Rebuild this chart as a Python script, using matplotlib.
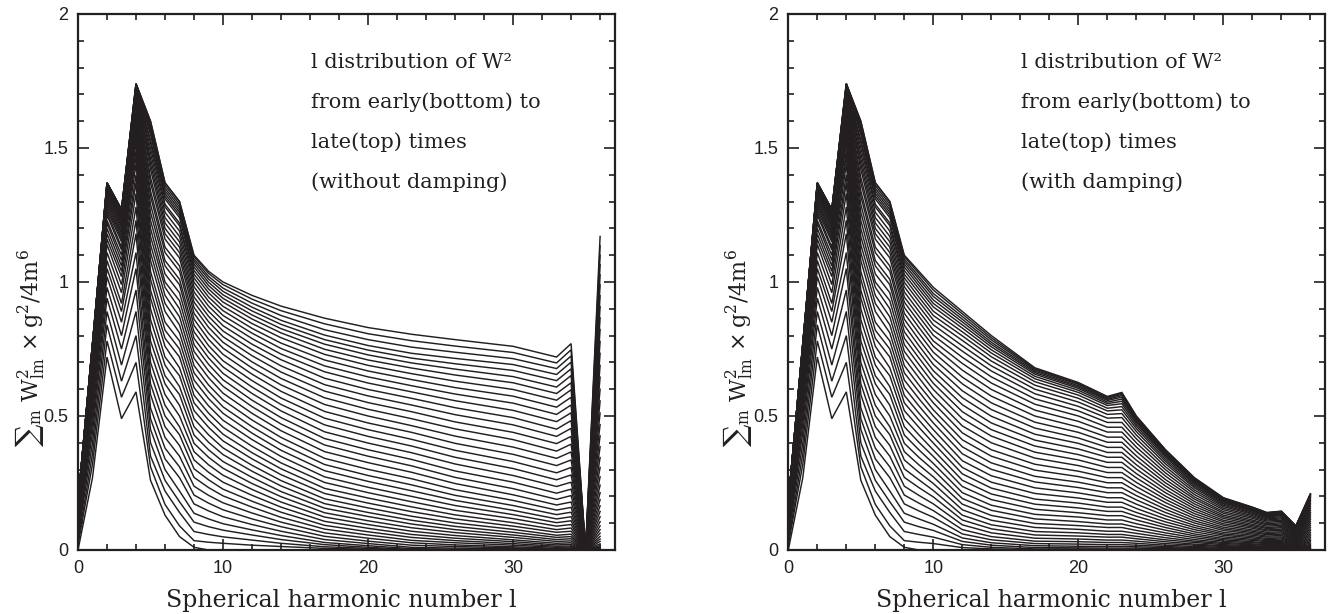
import numpy as np
import matplotlib
matplotlib.use("Agg")
import matplotlib.pyplot as plt
from matplotlib.ticker import MultipleLocator

plt.rcParams['mathtext.fontset'] = 'dejavuserif'

l_low = [0, 1, 2, 3, 4, 5, 6, 7, 8, 9]
l_nodamp = [10, 12, 14, 17, 20, 23, 26, 30, 33, 34, 35, 36]
l_damp = [10, 12, 14, 17, 20, 22, 23, 24, 26, 28, 30, 32, 33, 34, 35, 36]

# one row per l, 46 snapshots in each row from early (first) to late (last)
# low l: both runs look the same
low_rows = [
    [0, .02, .03, .05, .06, .07, .08, .09, .10, .11, .12, .12, .13, .13, .14, .14, .15, .15, .15, .16,
     .16, .16, .16, .16, .17, .17, .17, .17, .17, .17, .17, .17, .18, .18, .18, .18, .18, .18, .18, .18,
     .18, .18, .18, .18, .18, .18],
    [.27, .32, .36, .40, .44, .47, .50, .53, .55, .57, .59, .61, .62, .64, .65, .66, .67, .68, .69, .70,
     .71, .71, .72, .73, .73, .73, .74, .74, .75, .75, .75, .75, .76, .76, .76, .76, .76, .76, .77, .77,
     .77, .77, .77, .77, .77, .77],
    [.72, .78, .84, .89, .94, .98, 1.02, 1.05, 1.08, 1.11, 1.14, 1.16, 1.18, 1.20, 1.22, 1.23, 1.25, 1.26, 1.27, 1.28,
     1.29, 1.30, 1.30, 1.31, 1.32, 1.32, 1.33, 1.33, 1.34, 1.34, 1.35, 1.35, 1.35, 1.35, 1.36, 1.36, 1.36, 1.36, 1.36, 1.36,
     1.37, 1.37, 1.37, 1.37, 1.37, 1.37],
    [.49, .57, .63, .69, .75, .80, .85, .89, .92, .96, .99, 1.02, 1.04, 1.06, 1.08, 1.10, 1.12, 1.13, 1.15, 1.16,
     1.17, 1.18, 1.19, 1.20, 1.21, 1.21, 1.22, 1.23, 1.23, 1.24, 1.24, 1.24, 1.25, 1.25, 1.25, 1.26, 1.26, 1.26, 1.26, 1.26,
     1.27, 1.27, 1.27, 1.27, 1.27, 1.27],
    [.59, .70, .80, .89, .97, 1.05, 1.11, 1.18, 1.23, 1.28, 1.33, 1.37, 1.40, 1.44, 1.47, 1.49, 1.52, 1.54, 1.56, 1.58,
     1.60, 1.61, 1.62, 1.64, 1.65, 1.66, 1.67, 1.67, 1.68, 1.69, 1.70, 1.70, 1.71, 1.71, 1.71, 1.72, 1.72, 1.72, 1.73, 1.73,
     1.73, 1.73, 1.74, 1.74, 1.74, 1.74],
    [.26, .31, .35, .40, .45, .49, .53, .58, .62, .66, .70, .74, .78, .82, .86, .90, .94, .97, 1.01, 1.04,
     1.08, 1.11, 1.14, 1.17, 1.20, 1.23, 1.26, 1.29, 1.32, 1.34, 1.37, 1.39, 1.42, 1.44, 1.46, 1.48, 1.50, 1.52, 1.53, 1.55,
     1.56, 1.57, 1.58, 1.59, 1.60, 1.60],
    [.13, .17, .22, .26, .30, .34, .38, .42, .46, .50, .54, .58, .62, .65, .69, .72, .76, .79, .82, .85,
     .89, .92, .95, .98, 1.00, 1.03, 1.06, 1.08, 1.11, 1.13, 1.16, 1.18, 1.20, 1.22, 1.24, 1.26, 1.28, 1.29, 1.31, 1.32,
     1.33, 1.34, 1.35, 1.36, 1.37, 1.37],
    [.05, .09, .14, .18, .22, .27, .31, .35, .39, .43, .46, .50, .54, .58, .61, .65, .68, .72, .75, .78,
     .81, .84, .87, .90, .93, .96, .99, 1.01, 1.04, 1.06, 1.09, 1.11, 1.13, 1.15, 1.17, 1.19, 1.21, 1.22, 1.24, 1.25,
     1.26, 1.27, 1.28, 1.29, 1.30, 1.30],
    [.01, .035, .069, .104, .137, .172, .205, .238, .271, .303, .336, .367, .398, .429, .460, .490, .520, .549, .577, .606,
     .634, .661, .688, .715, .741, .766, .790, .814, .838, .861, .883, .905, .925, .944, .963, .982, .999, 1.015, 1.029, 1.043,
     1.056, 1.067, 1.077, 1.086, 1.095, 1.10],
    [0, .029, .058, .087, .116, .146, .175, .204, .233, .262, .290, .318, .346, .374, .402, .430, .458, .485, .511, .538,
     .565, .591, .616, .643, .668, .693, .717, .740, .763, .786, .809, .831, .852, .872, .891, .910, .928, .944, .960, .974,
     .987, .999, 1.011, 1.021, 1.032, 1.04],
]

# higher l, without damping
nodamp_rows = [
    [0, .025, .049, .074, .098, .124, .150, .176, .202, .227, .253, .279, .305, .330, .356, .381, .407, .432, .458, .484,
     .510, .534, .560, .585, .611, .635, .659, .683, .706, .730, .753, .775, .796, .817, .837, .857, .875, .893, .909, .925,
     .939, .952, .965, .977, .990, 1.0],
    [0, .018, .037, .056, .075, .095, .116, .138, .160, .182, .204, .226, .248, .271, .294, .316, .340, .363, .387, .412,
     .436, .460, .485, .510, .535, .559, .584, .608, .632, .656, .679, .702, .725, .747, .768, .789, .809, .827, .845, .862,
     .877, .892, .906, .921, .936, .950],
    [0, .013, .025, .039, .054, .070, .087, .104, .122, .141, .160, .179, .199, .218, .239, .259, .281, .303, .325, .349,
     .372, .396, .420, .445, .470, .494, .519, .543, .567, .592, .616, .640, .664, .687, .710, .731, .752, .772, .792, .810,
     .826, .842, .857, .875, .893, .910],
    [0, .006, .012, .020, .028, .039, .051, .064, .078, .092, .107, .123, .139, .156, .173, .191, .211, .230, .252, .273,
     .296, .319, .342, .367, .392, .416, .441, .467, .492, .517, .543, .568, .593, .617, .641, .665, .687, .709, .730, .749,
     .768, .785, .802, .822, .844, .865],
    [0, .003, .006, .010, .016, .024, .033, .044, .056, .068, .081, .095, .109, .125, .140, .157, .175, .194, .214, .234,
     .256, .278, .301, .326, .350, .374, .399, .424, .449, .474, .500, .525, .550, .575, .599, .623, .646, .668, .689, .709,
     .728, .746, .763, .785, .807, .830],
    [0, 0, 0, .002, .005, .010, .018, .027, .036, .047, .058, .070, .083, .097, .111, .126, .143, .161, .180, .200,
     .221, .243, .266, .290, .314, .338, .363, .388, .413, .439, .464, .490, .516, .541, .566, .590, .613, .636, .658, .679,
     .698, .716, .734, .757, .781, .805],
    [0, 0, 0, .001, .003, .007, .013, .019, .027, .035, .044, .054, .065, .076, .088, .101, .116, .131, .148, .166,
     .185, .204, .225, .248, .271, .295, .321, .346, .372, .398, .425, .452, .478, .505, .531, .557, .582, .606, .630, .653,
     .675, .695, .715, .738, .761, .785],
    [0, 0, 0, 0, .002, .005, .008, .012, .018, .024, .031, .038, .047, .056, .066, .077, .089, .102, .117, .132,
     .148, .166, .185, .206, .229, .253, .278, .304, .330, .357, .384, .412, .439, .467, .494, .521, .548, .574, .599, .624,
     .647, .670, .692, .714, .737, .760],
    [0, 0, 0, 0, .001, .002, .004, .006, .010, .014, .019, .025, .032, .039, .047, .055, .066, .076, .089, .102,
     .116, .132, .149, .168, .189, .212, .237, .262, .288, .315, .342, .369, .397, .424, .451, .479, .506, .533, .559, .584,
     .608, .632, .655, .677, .698, .720],
    [0, 0, 0, 0, .001, .002, .004, .007, .011, .015, .021, .027, .034, .042, .050, .059, .070, .082, .095, .109,
     .124, .141, .159, .179, .203, .227, .253, .280, .308, .336, .366, .395, .424, .454, .483, .512, .541, .570, .598, .624,
     .651, .676, .701, .724, .747, .770],
    [0, 0, 0, 0, 0, 0, 0, 0, 0, 0, 0, 0, 0, 0, 0, 0, 0, 0, 0, 0,
     0, 0, 0, 0, 0, 0, 0, 0, 0, 0, 0, 0, 0, 0, 0, 0, 0, 0, 0, 0,
     0, 0, 0, 0, 0, 0],
    [0, 0, 0, 0, .001, .004, .006, .011, .016, .023, .032, .041, .051, .063, .076, .090, .106, .124, .144, .165,
     .188, .214, .242, .273, .308, .345, .385, .426, .468, .511, .556, .600, .645, .689, .734, .778, .823, .866, .908, .949,
     .989, 1.027, 1.065, 1.100, 1.135, 1.170],
]

# higher l, with damping
damp_rows = [
    [0, .024, .048, .073, .096, .122, .147, .172, .198, .222, .248, .273, .299, .323, .349, .373, .399, .423, .449, .474,
     .500, .523, .549, .573, .599, .622, .646, .669, .692, .715, .738, .760, .780, .801, .820, .840, .858, .875, .891, .907,
     .920, .933, .946, .957, .970, .980],
    [0, .009, .020, .032, .045, .060, .076, .094, .112, .130, .150, .171, .192, .214, .237, .260, .284, .308, .333, .359,
     .385, .411, .437, .463, .490, .516, .542, .568, .594, .620, .645, .671, .696, .719, .742, .762, .782, .799, .814, .828,
     .840, .851, .861, .871, .881, .890],
    [0, .004, .010, .018, .027, .038, .050, .064, .079, .094, .111, .129, .148, .167, .188, .209, .231, .253, .277, .301,
     .325, .350, .374, .400, .425, .449, .474, .499, .524, .549, .574, .599, .623, .646, .668, .687, .705, .721, .735, .747,
     .758, .767, .775, .784, .792, .800],
    [0, .001, .004, .009, .016, .024, .033, .044, .056, .069, .084, .099, .116, .133, .152, .171, .190, .211, .232, .254,
     .275, .298, .320, .343, .365, .388, .410, .432, .455, .477, .500, .522, .544, .564, .583, .600, .615, .628, .639, .648,
     .656, .662, .667, .672, .676, .680],
    [0, .001, .004, .008, .014, .022, .031, .041, .052, .064, .077, .091, .106, .123, .139, .157, .175, .194, .213, .233,
     .253, .274, .294, .315, .336, .356, .377, .398, .418, .439, .459, .480, .500, .519, .536, .552, .566, .578, .588, .596,
     .603, .608, .613, .618, .621, .625],
    [0, .001, .003, .007, .013, .020, .028, .037, .048, .058, .070, .084, .097, .112, .128, .144, .160, .178, .195, .214,
     .232, .251, .270, .289, .308, .327, .346, .364, .383, .402, .421, .440, .458, .476, .492, .506, .519, .529, .539, .546,
     .552, .558, .562, .566, .570, .573],
    [0, .001, .003, .007, .013, .020, .028, .037, .048, .058, .070, .084, .097, .112, .128, .144, .160, .178, .195, .214,
     .232, .251, .270, .289, .308, .327, .346, .364, .383, .402, .421, .440, .458, .476, .494, .509, .523, .535, .546, .555,
     .563, .570, .576, .581, .585, .588],
    [0, .001, .003, .007, .012, .018, .025, .033, .042, .051, .062, .073, .085, .098, .112, .126, .140, .155, .171, .187,
     .203, .219, .236, .252, .269, .285, .302, .318, .335, .351, .368, .384, .400, .415, .429, .442, .453, .462, .470, .477,
     .482, .487, .491, .494, .497, .500],
    [0, .001, .002, .005, .009, .013, .018, .024, .031, .038, .046, .055, .064, .074, .084, .094, .105, .116, .128, .140,
     .152, .164, .177, .189, .201, .214, .226, .239, .251, .263, .276, .288, .300, .311, .322, .331, .339, .347, .353, .357,
     .362, .365, .368, .371, .373, .375],
    [0, .001, .002, .004, .006, .009, .013, .018, .022, .028, .033, .039, .046, .053, .060, .068, .076, .084, .092, .101,
     .109, .118, .127, .136, .145, .154, .163, .172, .181, .190, .198, .207, .216, .224, .232, .238, .244, .249, .254, .257,
     .260, .263, .265, .267, .268, .270],
    [0, 0, .001, .003, .004, .007, .010, .013, .016, .020, .024, .028, .033, .038, .043, .049, .055, .060, .066, .073,
     .079, .085, .092, .098, .105, .111, .118, .124, .130, .137, .143, .150, .156, .162, .167, .172, .176, .180, .183, .186,
     .188, .190, .191, .193, .194, .195],
    [0, 0, .001, .002, .004, .006, .008, .010, .013, .016, .020, .023, .027, .031, .036, .040, .045, .050, .055, .060,
     .065, .070, .075, .081, .086, .091, .096, .102, .107, .112, .118, .123, .128, .133, .137, .141, .145, .148, .150, .152,
     .154, .156, .157, .158, .159, .160],
    [0, 0, .001, .002, .003, .005, .007, .009, .012, .014, .017, .020, .024, .027, .031, .035, .039, .043, .048, .052,
     .057, .061, .066, .071, .075, .080, .084, .089, .094, .098, .103, .108, .112, .116, .120, .124, .127, .129, .132, .133,
     .135, .136, .137, .138, .139, .140],
    [0, 0, .001, .002, .003, .005, .007, .009, .012, .015, .018, .021, .025, .028, .032, .036, .041, .045, .049, .054,
     .059, .064, .068, .073, .078, .083, .087, .092, .097, .102, .107, .111, .116, .120, .124, .128, .131, .134, .136, .138,
     .140, .141, .142, .143, .144, .145],
    [0, 0, .001, .001, .002, .003, .004, .006, .007, .009, .011, .013, .015, .018, .020, .023, .025, .028, .031, .034,
     .036, .039, .042, .045, .048, .051, .054, .057, .060, .063, .066, .069, .072, .075, .077, .079, .081, .083, .085, .086,
     .087, .088, .088, .089, .089, .090],
    [0, 0, .001, .003, .005, .007, .010, .014, .017, .021, .026, .031, .036, .041, .047, .053, .059, .065, .072, .078,
     .085, .092, .099, .106, .113, .120, .127, .134, .140, .147, .154, .161, .168, .174, .180, .185, .190, .194, .197, .200,
     .202, .204, .206, .207, .209, .210],
]

notes_nodamp = ["l distribution of W\u00b2", "from early(bottom) to", "late(top) times", "(without damping)"]
notes_damp = ["l distribution of W\u00b2", "from early(bottom) to", "late(top) times", "(with damping)"]

ylabel = r'${\sum}_{\mathrm{m}}\ \mathrm{W}^2_{\mathrm{lm}}\,\times\mathrm{g}^2/4\mathrm{m}^6$'
ink = '#231f20'

fig = plt.figure(figsize=(13.34, 6.14), dpi=100)
ax1 = fig.add_axes([78 / 1334, 64 / 614, 536.6 / 1334, 536 / 614])
ax2 = fig.add_axes([788.3 / 1334, 64 / 614, 536.6 / 1334, 536 / 614])


def draw(ax, l_high, high_rows, notes, ylab_x):
    l_vals = l_low + l_high
    curves = np.array(low_rows + high_rows)   # (n_l, n_times)
    ax.plot(l_vals, curves, color=ink, lw=1.05, solid_joinstyle='miter')

    ax.set_xlim(0, 37)
    ax.set_ylim(0, 2)
    ax.xaxis.set_minor_locator(MultipleLocator(2))
    ax.yaxis.set_minor_locator(MultipleLocator(0.1))
    ax.set_xticks([0, 10, 20, 30])
    ax.set_xticklabels(['0', '10', '20', '30'])
    ax.set_yticks([0, 0.5, 1, 1.5, 2])
    ax.set_yticklabels(['0', '0.5', '1', '1.5', '2'])
    ax.tick_params(which='both', direction='in', top=True, right=True, color=ink, width=1.2)
    ax.tick_params(which='major', length=8, labelsize=13, pad=7, labelcolor=ink)
    ax.tick_params(which='minor', length=4)
    for lab in ax.get_xticklabels() + ax.get_yticklabels():
        lab.set_family('Liberation Sans')
    for sp in ax.spines.values():
        sp.set_linewidth(1.6)
        sp.set_color(ink)

    ax.set_xlabel('Spherical harmonic number l', family='DejaVu Serif', fontsize=17, color=ink)
    ax.xaxis.set_label_coords(0.49, -0.072)
    ax.set_ylabel(ylabel, fontsize=16, color=ink)
    ax.yaxis.set_label_coords(ylab_x, 0.377)

    for i, line in enumerate(notes):
        ax.text(0.434, 0.910 - i * 0.0745, line, transform=ax.transAxes, family='DejaVu Serif',
                fontsize=15, color=ink, va='center', ha='left')


draw(ax1, l_nodamp, nodamp_rows, notes_nodamp, -0.060)
draw(ax2, l_damp, damp_rows, notes_damp, -0.064)

fig.savefig('out.png', dpi=100)
